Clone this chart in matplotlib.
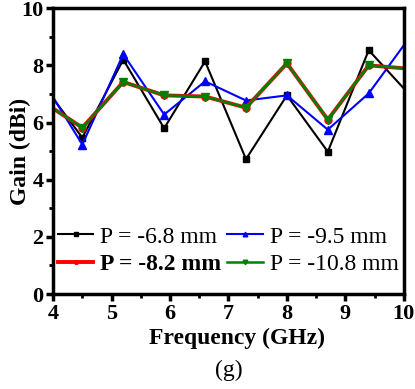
import matplotlib
matplotlib.use("Agg")
import matplotlib.pyplot as plt
import numpy as np

freq = [3.8, 4.5, 5.2, 5.9, 6.6, 7.3, 8.0, 8.7, 9.4, 10.1]
gain_68 = [7.39, 5.47, 8.20, 5.80, 8.14, 4.72, 6.95, 4.98, 8.53, 6.97]
gain_95 = [7.54, 5.23, 8.39, 6.28, 7.44, 6.77, 6.95, 5.75, 7.02, 8.98]
gain_82 = [6.76, 5.82, 7.42, 6.95, 6.91, 6.52, 8.07, 6.10, 8.00, 7.88]
gain_108 = [6.76, 5.82, 7.42, 6.95, 6.91, 6.52, 8.07, 6.10, 8.00, 7.88]

labels = ["P = -6.8 mm", "P = -8.2 mm", "P = -9.5 mm", "P = -10.8 mm"]

plt.rcParams['font.family'] = ['Liberation Serif', 'DejaVu Serif']

fig = plt.figure(figsize=(4.15, 3.89), dpi=100)
ax = fig.add_axes([0.128, 0.244, 0.845, 0.735])

l1, = ax.plot(freq, gain_68, color='black', marker='s', ms=5, lw=1.5)
l3, = ax.plot(freq, gain_95, color='blue', marker='^', ms=6, lw=1.5)
l2, = ax.plot(freq, gain_82, color='red', marker='o', ms=5, lw=2.8)
l4, = ax.plot(freq, gain_108, color='green', marker='v', ms=6, lw=1.8)

ax.set_xlim(4, 10)
ax.set_ylim(0, 10)
ax.set_xticks(np.arange(4, 11, 1))
ax.set_yticks(np.arange(0, 11, 2))
ax.set_xticks(np.arange(4, 10.01, 0.5), minor=True)
ax.set_yticks(np.arange(0, 10.01, 1), minor=True)
for s in ax.spines.values():
    s.set_linewidth(2.5)
ax.tick_params(which='major', direction='out', length=5, width=2.5, labelsize=16, pad=2)
ax.tick_params(which='minor', direction='out', length=3, width=2)
for t in ax.get_xticklabels() + ax.get_yticklabels():
    t.set_fontweight('bold')

ax.set_xlabel('Frequency (GHz)', fontsize=17, fontweight='bold')
ax.set_ylabel('Gain (dBi)', fontsize=17, fontweight='bold')
ax.xaxis.set_label_coords(0.524, -0.118)
ax.yaxis.set_label_coords(-0.063, 0.5)

leg = ax.legend([l1, l2, l3, l4], labels, ncol=2, loc='lower left',
                bbox_to_anchor=(0.0, 0.05), frameon=False, fontsize=17,
                handlelength=1.5, handletextpad=0.3, columnspacing=0.25,
                labelspacing=0.25, borderpad=0.1, borderaxespad=0.1,
                markerscale=0.55)
leg.get_texts()[1].set_fontweight('bold')

fig.text(0.552, 0.02, '(g)', ha='center', va='bottom', fontsize=17)

fig.savefig('out.png', dpi=100)
